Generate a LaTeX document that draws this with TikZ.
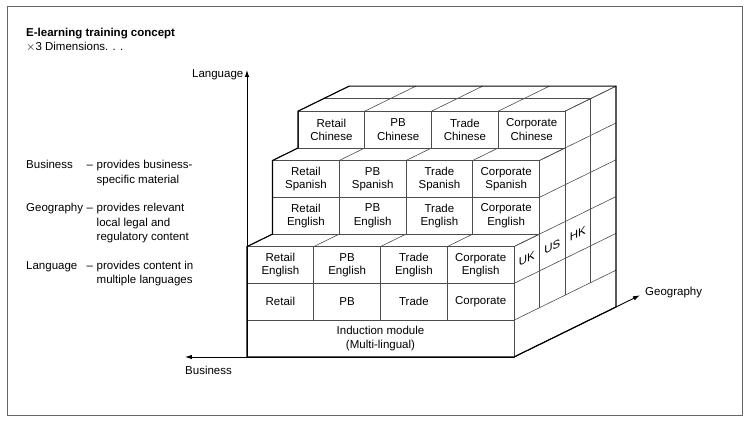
\documentclass[tikz,border=0pt]{standalone}
\usepackage{fontspec}
\setmainfont{Liberation Sans}
\usetikzlibrary{arrows.meta}
\begin{document}
\begin{tikzpicture}[x=1pt,y=1pt,
  grid/.style={draw=black!70, line width=0.6pt},
  outline/.style={draw=black, line width=1.1pt, line join=miter},
  axisline/.style={draw=black, line width=0.9pt, -{Latex[length=7pt,width=4.5pt]}},
  celltext/.style={font=\fontsize{11.5}{13.3}\selectfont, align=center, inner sep=0pt},
  sidetext/.style={font=\fontsize{11.5}{13.3}\selectfont, yslant=0.49, inner sep=0pt},
  lbl/.style={font=\fontsize{11.5}{14}\selectfont, inner sep=0pt, anchor=base west},
  titlelbl/.style={font=\fontsize{11.5}{14}\selectfont\bfseries, inner sep=0pt, anchor=base west},
  axislbl/.style={font=\fontsize{11.5}{14}\selectfont, inner sep=0pt},
]
\useasboundingbox (0,0) rectangle (750,425);
\draw[black!60, line width=1pt] (7,9) rectangle (742,418);

% title
\node[titlelbl] (title) at (26,388) {E-learning training concept};
\node[lbl] (subtitle) at (26,374) {$\times$3 Dimensions. . .};

% left legend
\node[lbl] (bizname) at (26,256) {Business};
\node[lbl] (bizdash) at (86.5,256) {–};
\node[lbl] (biztexta) at (96.5,256) {provides business-};
\node[lbl] (biztextb) at (96.5,241) {specific material};
\node[lbl] (geoname) at (26,213) {Geography};
\node[lbl] (geodash) at (86.5,213) {–};
\node[lbl] (geotexta) at (96.5,213) {provides relevant};
\node[lbl] (geotextb) at (96.5,198.5) {local legal and};
\node[lbl] (geotextc) at (96.5,184) {regulatory content};
\node[lbl] (langname) at (26,155) {Language};
\node[lbl] (langdash) at (86.5,155) {–};
\node[lbl] (langtexta) at (96.5,155) {provides content in};
\node[lbl] (langtextb) at (96.5,141) {multiple languages};

\begin{scope}[shift={(247pt,68pt)}, x={(66.75pt,0pt)}, y={(0pt,36.8pt)}, z={(25.5pt,12.5pt)}]
  \coordinate (origin) at (0,0,0);
  \coordinate (corner) at (4,0,0);
  \coordinate (langtip) at (0,7.8,0);
  \coordinate (biztip) at (-0.93,0,0);
  \coordinate (geotip) at (4,0,4.94);

  % front faces
  \draw[grid] (0,0,0) -- (4,0,0) -- (4,3,0) -- (0,3,0) -- cycle;
  \foreach \l in {1,2} \draw[grid] (0,\l,0) -- (4,\l,0);
  \foreach \c in {1,2,3} \draw[grid] (\c,1,0) -- (\c,3,0);
  \draw[grid] (0,3,1) -- (4,3,1) -- (4,5,1) -- (0,5,1) -- cycle;
  \draw[grid] (0,4,1) -- (4,4,1);
  \foreach \c in {1,2,3} \draw[grid] (\c,3,1) -- (\c,5,1);
  \draw[grid] (0,5,2) -- (4,5,2) -- (4,6,2) -- (0,6,2) -- cycle;
  \foreach \c in {1,2,3} \draw[grid] (\c,5,2) -- (\c,6,2);
  % top faces
  \foreach \c in {0,...,4} {
    \draw[grid] (\c,3,0) -- (\c,3,1);
    \draw[grid] (\c,5,1) -- (\c,5,2);
    \draw[grid] (\c,6,2) -- (\c,6,4);
  }
  \draw[grid] (0,6,3) -- (4,6,3);
  % right side face
  \foreach \l in {1,2,3} \draw[grid] (4,\l,0) -- (4,\l,4);
  \foreach \l in {4,5} \draw[grid] (4,\l,1) -- (4,\l,4);
  \draw[grid] (4,6,2) -- (4,6,4);
  \draw[grid] (4,1,1) -- (4,5,1);
  \draw[grid] (4,1,2) -- (4,6,2);
  \draw[grid] (4,1,3) -- (4,6,3);

  % outline
  \draw[outline] (0,0,0) -- (0,3,0) -- (0,3,1) -- (0,5,1) -- (0,5,2) -- (0,6,2)
     -- (0,6,4) -- (4,6,4) -- (4,0,4) -- (4,0,0) -- cycle;

  % axes
  \draw[axisline] (origin) -- (langtip);
  \draw[axisline] (corner) -- (biztip);
  \draw[axisline] (corner) -- (geotip);

  % cell texts
  \node[celltext] (induction) at (2,0.5,0) {Induction module\\(Multi-lingual)};
  \node[celltext] (b1) at (0.5,1.5,0) {Retail};
  \node[celltext] (b2) at (1.5,1.5,0) {PB};
  \node[celltext] (b3) at (2.5,1.5,0) {Trade};
  \node[celltext] (b4) at (3.5,1.5,0) {Corporate};
  \node[celltext] (e1) at (0.5,2.5,0) {Retail\\English};
  \node[celltext] (e2) at (1.5,2.5,0) {PB\\English};
  \node[celltext] (e3) at (2.5,2.5,0) {Trade\\English};
  \node[celltext] (e4) at (3.5,2.5,0) {Corporate\\English};
  \node[celltext] (f1) at (0.5,3.5,1) {Retail\\English};
  \node[celltext] (f2) at (1.5,3.5,1) {PB\\English};
  \node[celltext] (f3) at (2.5,3.5,1) {Trade\\English};
  \node[celltext] (f4) at (3.5,3.5,1) {Corporate\\English};
  \node[celltext] (s1) at (0.5,4.5,1) {Retail\\Spanish};
  \node[celltext] (s2) at (1.5,4.5,1) {PB\\Spanish};
  \node[celltext] (s3) at (2.5,4.5,1) {Trade\\Spanish};
  \node[celltext] (s4) at (3.5,4.5,1) {Corporate\\Spanish};
  \node[celltext] (c1) at (0.5,5.5,2) {Retail\\Chinese};
  \node[celltext] (c2) at (1.5,5.5,2) {PB\\Chinese};
  \node[celltext] (c3) at (2.5,5.5,2) {Trade\\Chinese};
  \node[celltext] (c4) at (3.5,5.5,2) {Corporate\\Chinese};
  \node[sidetext] (uk) at (4,2.5,0.5) {UK};
  \node[sidetext] (us) at (4,2.5,1.5) {US};
  \node[sidetext] (hk) at (4,2.5,2.5) {HK};
\end{scope}

% axis labels
\node[axislbl, anchor=east] (langlbl) at (243.5,350) {Language};
\node[axislbl, anchor=west] (bizlbl) at (185,55) {Business};
\node[axislbl, anchor=west] (geolbl) at (645,132) {Geography};
\end{tikzpicture}
\end{document}
